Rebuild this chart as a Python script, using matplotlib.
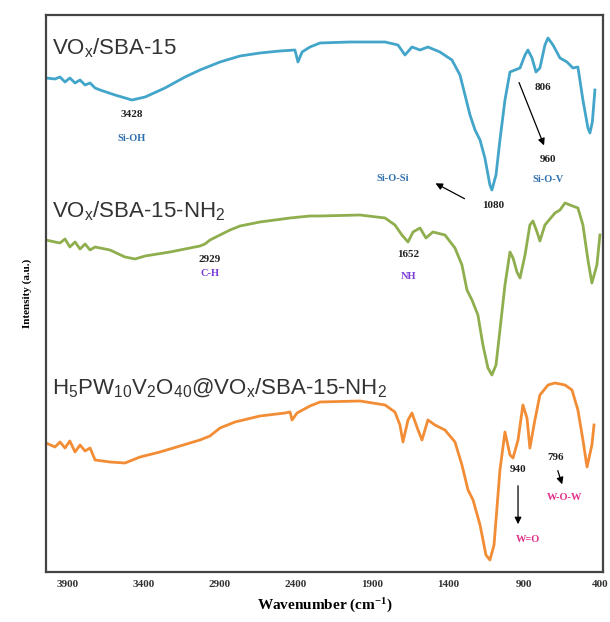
import matplotlib.pyplot as plt

plt.rcParams["mathtext.fontset"] = "custom"
plt.rcParams["mathtext.rm"] = "Liberation Sans"
plt.rcParams["mathtext.it"] = "Liberation Sans"
plt.rcParams["mathtext.bf"] = "Liberation Serif:bold"

# FTIR spectra (wavenumber cm-1, intensity a.u.)
wn_sba = [4045, 3986, 3953, 3920, 3888, 3854, 3821, 3788, 3755, 3722, 3689, 3591,
          3479, 3393, 3262, 3130, 3032, 2900, 2768, 2637, 2505, 2407, 2387, 2360,
          2308, 2242, 2045, 1814, 1729, 1683, 1637, 1584, 1532, 1453, 1374, 1321,
          1288, 1255, 1222, 1189, 1157, 1124, 1111, 1084, 1058, 1025, 992, 959,
          926, 893, 874, 847, 821, 795, 762, 742, 709, 663, 617, 578, 545, 512,
          479, 466, 450, 433]
int_sba = [494, 493, 495, 490, 494, 489, 492, 487, 489, 484, 482, 477,
           472, 475, 484, 495, 502, 510, 516, 519, 521, 522, 510, 520,
           525, 529, 530, 530, 527, 517, 525, 522, 525, 520, 512, 497,
           477, 457, 442, 432, 414, 387, 382, 397, 432, 472, 500, 502,
           504, 517, 522, 514, 500, 504, 527, 534, 527, 514, 510, 504, 505, 472,
           444, 439, 450, 482]

wn_nh2 = [4045, 3986, 3953, 3920, 3888, 3854, 3821, 3788, 3755, 3722, 3689, 3624,
          3525, 3459, 3393, 3229, 3097, 3032, 2999, 2966, 2834, 2768, 2637, 2439,
          2308, 2242, 1979, 1814, 1749, 1703, 1663, 1630, 1584, 1545, 1499, 1420,
          1354, 1308, 1275, 1242, 1203, 1170, 1137, 1111, 1084, 1058, 1025, 992,
          972, 946, 926, 893, 861, 841, 814, 795, 762, 696, 663, 630, 597, 545,
          512, 479, 453, 420, 400]
int_nh2 = [332, 330, 329, 333, 325, 330, 323, 328, 322, 325, 324, 322,
           315, 313, 316, 320, 324, 326, 328, 332, 342, 346, 350, 354,
           356, 356, 357, 354, 347, 337, 330, 340, 344, 334, 340, 337,
           324, 307, 282, 272, 257, 227, 204, 197, 207, 242, 287, 320,
           314, 300, 294, 317, 347, 351, 340, 331, 347, 359, 362, 369, 367, 364,
           347, 312, 289, 307, 337]

wn_hpa = [4045, 3986, 3953, 3920, 3888, 3854, 3821, 3788, 3755, 3722, 3624, 3525,
          3426, 3295, 3163, 3032, 2966, 2900, 2801, 2637, 2472, 2439, 2426, 2393,
          2308, 2242, 1979, 1814, 1749, 1716, 1696, 1663, 1637, 1597, 1571, 1532,
          1486, 1420, 1354, 1308, 1268, 1235, 1189, 1150, 1124, 1097, 1058, 1025,
          992, 972, 939, 907, 880, 861, 828, 795, 742, 696, 630, 584, 545, 512,
          485, 453, 439]
int_hpa = [129, 125, 130, 124, 131, 120, 127, 121, 124, 112, 110, 109,
           115, 120, 126, 132, 136, 144, 150, 156, 159, 160, 152, 159,
           166, 170, 171, 167, 160, 147, 130, 152, 159, 142, 132, 152,
           147, 142, 130, 107, 82, 72, 47, 17, 12, 27, 102, 140,
           117, 114, 132, 167, 154, 124, 152, 177, 187, 189, 187, 182, 162, 132,
           105, 127, 147]

xticks = [3900, 3400, 2900, 2400, 1900, 1400, 900, 400]

fig = plt.figure(figsize=(6.1, 6.22), dpi=100)
ax = fig.add_axes([0.0754, 0.0804, 0.9131, 0.8955])

ax.plot(wn_sba, int_sba, color="#42a5c9", lw=2)
ax.plot(wn_nh2, int_nh2, color="#8fae4e", lw=2)
ax.plot(wn_hpa, int_hpa, color="#f28c35", lw=2)

ax.set_xlim(4045, 380)
ax.set_ylim(0, 557)
ax.set_yticks([])
ax.set_xticks(xticks)
ax.set_xticklabels([str(t) for t in xticks], fontfamily="Liberation Serif",
                   fontweight="bold", fontsize=8, color="#333333")
ax.tick_params(axis="x", length=0, pad=6)
for s in ax.spines.values():
    s.set_color("#444444")
    s.set_linewidth(1.6)

ax.set_xlabel(r"Wavenumber (cm$\mathbf{^{-1}}$)", fontfamily="Liberation Serif",
              fontweight="bold", fontsize=11, labelpad=5)
ax.set_ylabel("Intensity (a.u.)", fontfamily="Liberation Serif",
              fontweight="bold", fontsize=8, labelpad=10)

# sample names
name_kw = dict(fontfamily="Liberation Sans", fontsize=16, color="#333333",
               va="center", ha="left")
ax.text(4005, 524, "VO$_x$/SBA-15", **name_kw)
ax.text(4005, 361, "VO$_x$/SBA-15-NH$_2$", **name_kw)
ax.text(4005, 184, "H$_5$PW$_{10}$V$_2$O$_{40}$@VO$_x$/SBA-15-NH$_2$", **name_kw)

# band annotations
num_kw = dict(fontfamily="Liberation Serif", fontweight="bold", fontsize=8,
              color="#222222", ha="center", va="center")
blue = "#2f6fae"
purple = "#7a3fd8"
pink = "#e0308a"
lab_kw = dict(fontfamily="Liberation Serif", fontweight="bold", fontsize=7.5,
              ha="center", va="center")

ax.text(3479, 457, "3428", **num_kw)
ax.text(3479, 433, "Si-OH", color=blue, **lab_kw)
ax.text(775, 484, "806", **num_kw)
ax.text(742, 412, "960", **num_kw)
ax.text(742, 392, "Si-O-V", color=blue, **lab_kw)
ax.text(1762, 393, "Si-O-Si", color=blue, **lab_kw)
ax.text(1104, 366, "1080", **num_kw)
ax.text(2966, 312, "2929", **num_kw)
ax.text(2966, 298, "C-H", color=purple, **lab_kw)
ax.text(1663, 317, "1652", **num_kw)
ax.text(1663, 295, "NH", color=purple, **lab_kw)
ax.text(939, 102, "940", **num_kw)
ax.text(874, 32, "W=O", color=pink, **lab_kw)
ax.text(690, 114, "796", **num_kw)
ax.text(630, 74, "W-O-W", color=pink, **lab_kw)

arr = dict(arrowstyle="-|>", color="black", lw=0.9, mutation_scale=10)
ax.annotate("", xy=(761, 424), xytext=(939, 492), arrowprops=arr)
ax.annotate("", xy=(1498, 390), xytext=(1275, 372), arrowprops=arr)
ax.annotate("", xy=(939, 45), xytext=(939, 89), arrowprops=arr)
ax.annotate("", xy=(643, 85), xytext=(683, 104), arrowprops=arr)

fig.savefig("out.png", dpi=100)
